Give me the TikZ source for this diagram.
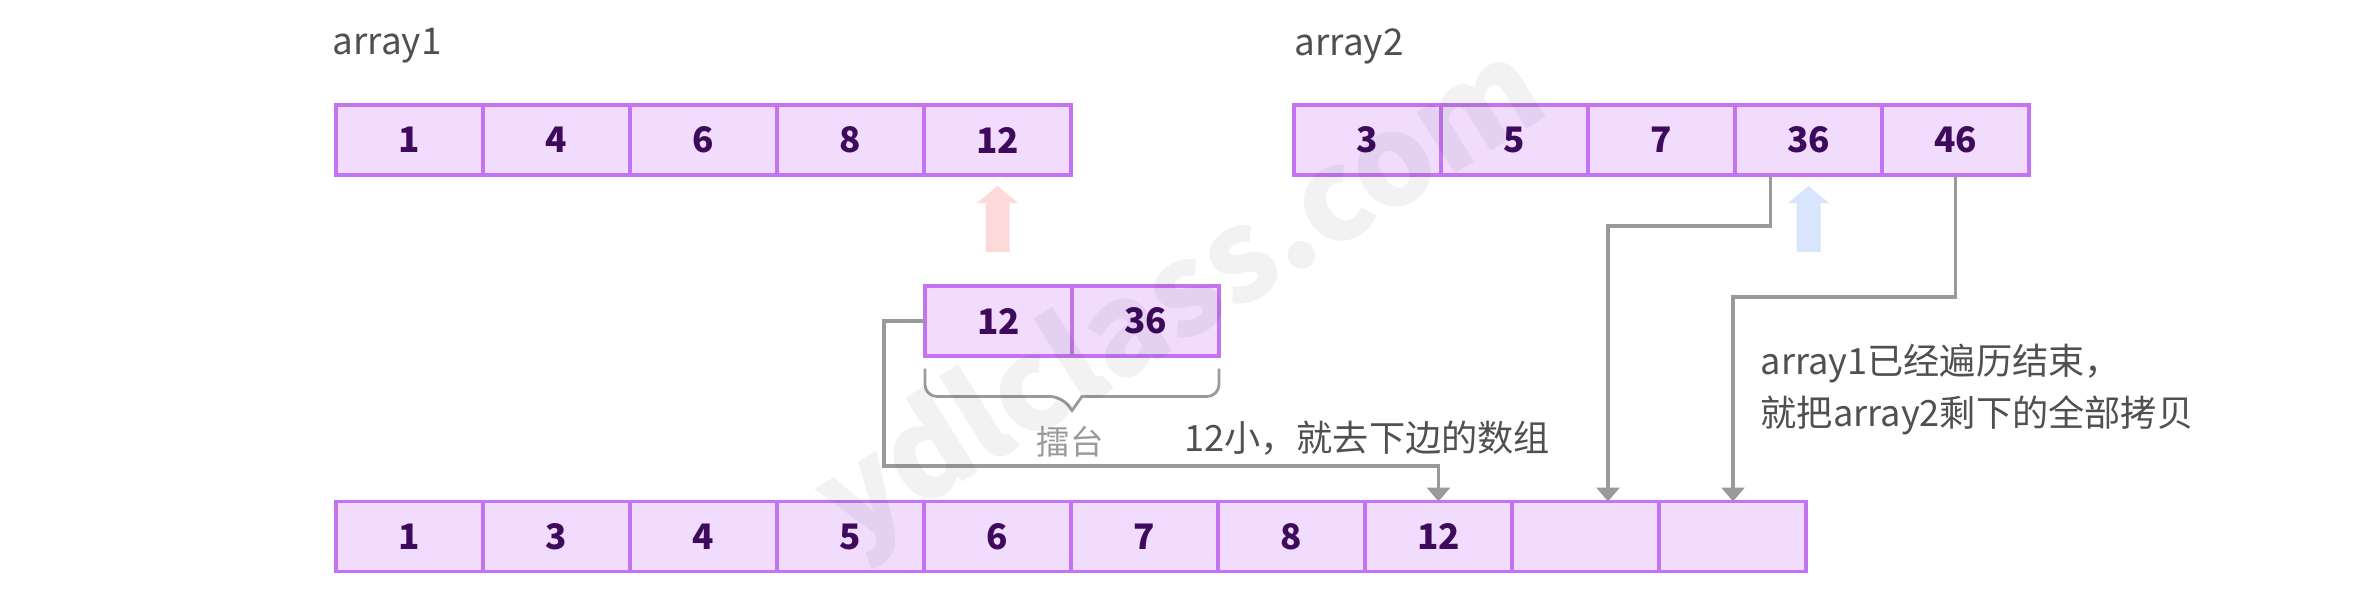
\documentclass[tikz,border=0pt]{standalone}
\usepackage{fontspec}
\usepackage{tikz}
\usetikzlibrary{calc}
\usetikzlibrary{arrows.meta}
\newfontfamily\cjk{Noto Sans CJK SC}

\definecolor{cellfill}{HTML}{F1DCFD}
\definecolor{celledge}{HTML}{C274F2}
\definecolor{cellnum}{HTML}{3D0A5C}
\definecolor{textgray}{HTML}{505050}
\definecolor{linegray}{HTML}{9A9A9A}
\definecolor{arrowred}{HTML}{FDDADA}
\definecolor{arrowblue}{HTML}{D9E5FC}

\tikzset{
cell/.style={draw=celledge, fill=cellfill, line width=1.1pt, minimum width=1.47cm, minimum height=0.70cm,
  inner sep=0pt, outer sep=0pt, text=cellnum, font=\cjk\bfseries\fontsize{10}{12}\selectfont},
title/.style={text=textgray, inner sep=0pt, font=\cjk\fontsize{10.5}{12}\selectfont},
note/.style={text=textgray, inner sep=0pt, font=\cjk\fontsize{10.3}{14.8}\selectfont},
conn/.style={draw=linegray, line width=0.9pt, -{Triangle[width=0.23cm, length=0.14cm]}},
brace/.style={draw=linegray, line width=0.8pt}
}

\begin{document}
\begin{tikzpicture}

\useasboundingbox (0,0) rectangle (23.64,-6.09);

% input arrays
\node[title, anchor=west] (name1) at (3.32,-0.46) {array1};
\node[title, anchor=west] (name2) at (12.94,-0.46) {array2};
\foreach \v [count=\i] in {1,4,6,8,12} {\node[cell] (a1-\i) at ({4.095+1.47*(\i-1)},-1.40) {\v};}
\foreach \v [count=\i] in {3,5,7,36,46} {\node[cell] (a2-\i) at ({13.675+1.47*(\i-1)},-1.40) {\v};}

\foreach \n/\c in {a1-5/arrowred, a2-4/arrowblue} {\fill[\c, shift={(\n.south)}] (0,-0.11) -- (0.205,-0.28) -- (0.12,-0.28) -- (0.12,-0.77) -- (-0.12,-0.77) -- (-0.12,-0.28) -- (-0.205,-0.28) -- cycle;}

% arena
\foreach \v [count=\i] in {12,36} {\node[cell] (mid-\i) at ({9.985+1.47*(\i-1)},-3.21) {\v};}

\draw[brace, rounded corners=0.12cm] ([yshift=-0.125cm]mid-1.south west) |- ([xshift=-0.1cm,yshift=-0.405cm]mid-1.south east)
  [sharp corners] -- ([yshift=-0.545cm]mid-1.south east) -- ([xshift=0.1cm,yshift=-0.405cm]mid-1.south east)
  [rounded corners=0.12cm] -| ([yshift=-0.125cm]mid-2.south east);

\node[note, text=linegray, font=\cjk\fontsize{9.5}{11}\selectfont] (arena) at (10.70,-4.42) {擂台};
\node[note] (rule) at (13.67,-4.38) {12小，就去下边的数组};
\node[note, anchor=west, align=left] (rest) at (17.60,-3.89) {array1已经遍历结束，\\就把array2剩下的全部拷贝};

% merged array
\foreach \v [count=\i] in {1,3,4,5,6,7,8,12,{},{}} {\node[cell] (res-\i) at ({4.095+1.47*(\i-1)},-5.365) {\v};}

\coordinate (bend1) at (8.84,-4.66);
\coordinate (bend2) at (16.08,-2.26);
\coordinate (bend3) at (17.33,-2.97);
\draw[conn] (mid-1.west) -| (bend1) -| (res-8.north);
\draw[conn] ([xshift=-0.38cm]a2-4.south) |- (bend2) -- (bend2 |- res-9.north);
\draw[conn] (a2-5.south) |- (bend3) -- (bend3 |- res-10.north);

%\fill [white, path fading=south] ...
\node[rotate=32, text=black, text opacity=0.05, font=\cjk\bfseries\fontsize{36}{40}\selectfont] (mark) at (11.83,-3.01) {ydlclass.com};

\end{tikzpicture}
\end{document}
